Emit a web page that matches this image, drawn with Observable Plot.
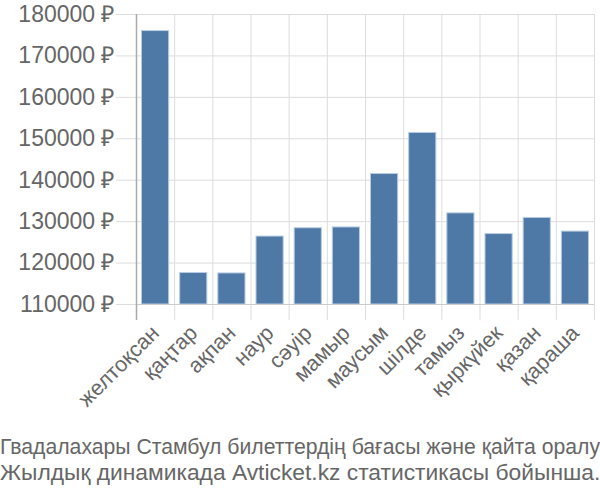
<!DOCTYPE html>
<html>
<head>
<meta charset="utf-8">
<script src="https://cdn.jsdelivr.net/npm/d3@7"></script>
<script src="https://cdn.jsdelivr.net/npm/@observablehq/plot@0.6"></script>
<style>
  html, body { margin: 0; padding: 0; background: #fff; }
  #chart svg { display: block; }
  #caption { width: 600px; text-align: center; font-family: "Liberation Sans", Arial, sans-serif; color: #666; margin-top: 10px; white-space: nowrap; }
  #caption .l1 { font-size: 21.2px; line-height: 24px; }
  #caption .l2 { font-size: 22.8px; line-height: 27px; }
</style>
</head>
<body>
<div id="chart"></div>
<div id="caption"><div class="l1">Гвадалахары Стамбул билеттердің бағасы және қайта оралу</div><div class="l2">Жылдық динамикада Avticket.kz статистикасы бойынша.</div></div>
<script>
const months = ["желтоқсан","қаңтар","ақпан","наур","сәуір","мамыр","маусым","шілде","тамыз","қыркүйек","қазан","қараша"];
const prices = [176000, 117600, 117500, 126400, 128400, 128600, 141500, 151400, 132000, 127000, 130900, 127600];
const yTicks = [110000, 120000, 130000, 140000, 150000, 160000, 170000, 180000];

const data = months.map((m, i) => ({month: m, i, price: prices[i]}));
const bounds = d3.range(months.length + 1);
const centers = months.map((m, i) => i + 0.5);

const chart = Plot.plot({
  width: 600,
  height: 425,
  marginTop: 14,
  marginLeft: 136,
  marginRight: 6,
  marginBottom: 121,
  style: {fontFamily: "'Liberation Sans', Arial, sans-serif", color: "#666", background: "#fff"},
  x: {domain: [0, months.length], axis: null},
  y: {domain: [110000, 180000], axis: null},
  marks: [
    Plot.gridY(yTicks, {stroke: "#ddd", strokeOpacity: 1, strokeWidth: 1}),
    Plot.gridX(bounds, {stroke: "#ddd", strokeOpacity: 1, strokeWidth: 1}),
    Plot.axisY(yTicks, {tickSize: 20, tickPadding: 2, stroke: "#ddd", strokeOpacity: 1, fontSize: 23, fill: "#666", tickFormat: d => d + " ₽", label: null}),
    Plot.axisX(bounds, {tickSize: 16, stroke: "#ddd", strokeOpacity: 1, tickFormat: () => "", label: null}),
    Plot.axisX(centers, {tickSize: 0, tickPadding: 25, tickRotate: -45, fontSize: 21.5, fill: "#666", tickFormat: d => months[Math.round(d - 0.5)], label: null}),
    Plot.rectY(data, {x1: "i", x2: d => d.i + 1, y1: 110000, y2: "price", fill: "#4e79a7", stroke: "#b8cce2", strokeWidth: 1, insetLeft: 5.5, insetRight: 5.5}),
    Plot.ruleY([110000], {stroke: "#ccc"}),
    Plot.axisX([0], {tickSize: 16, stroke: "#aaa", strokeOpacity: 1, strokeWidth: 1.5, tickFormat: () => "", label: null}),
    Plot.ruleX([0], {stroke: "#aaa", strokeWidth: 1.5})
  ]
});
document.getElementById("chart").appendChild(chart);
</script>
</body>
</html>
